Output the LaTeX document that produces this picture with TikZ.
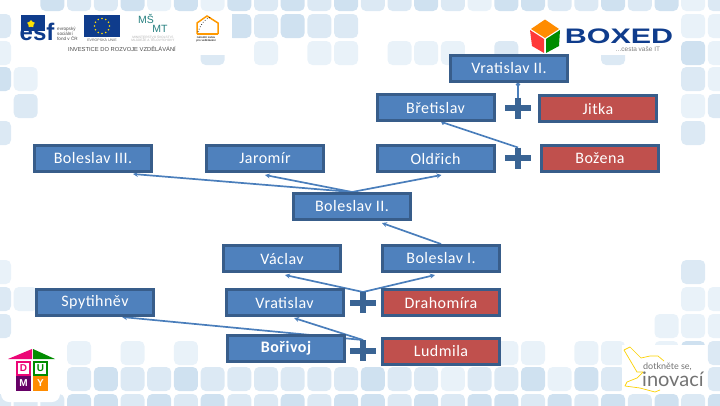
\documentclass[tikz,border=0pt]{standalone}
\usepackage{fontspec}
\setmainfont{Carlito}
\newfontfamily\personfont[LetterSpace=3]{Carlito}
\newfontfamily\logofont{Liberation Sans}
\newfontfamily\thinfont{Lato}
\usetikzlibrary{arrows.meta,backgrounds,shapes.geometric}
\definecolor{tileM}{HTML}{CFE1F0}
\definecolor{tileL}{HTML}{DCE9F4}
\definecolor{tileC}{HTML}{E9F2F9}
\definecolor{boxblue}{HTML}{4F81BD}
\definecolor{boxred}{HTML}{C0504D}
\definecolor{boxedge}{HTML}{385D8A}
\definecolor{linkblue}{HTML}{4A7EBB}
\definecolor{plusblue}{HTML}{3A6494}
\definecolor{navy}{HTML}{0F3C8C}
\tikzset{
  person/.style={draw=boxedge,line width=3pt,minimum width=117pt,minimum height=26pt,inner sep=0pt,text=white,font=\personfont\fontsize{16}{17}\selectfont},
  man/.style={person,fill=boxblue},
  woman/.style={person,fill=boxred},
  plusmark/.style={inner sep=0pt,outer sep=0pt,minimum width=26pt,minimum height=21pt},
  link/.style={draw=linkblue,line width=1.7pt},
  descent/.style={link,-{Stealth[length=5pt,width=5pt]}},
  tie/.style={link,{Circle[length=4pt,width=4pt]}-},
  tile/.style={rounded corners=5pt},
  tiny/.style={inner sep=0pt,text=gray!75!black,align=center,font=\logofont\fontsize{3.6}{4}\selectfont}
}
% one row of background tiles: top edge, list of column/shade
\newcommand{\tilerow}[2]{%
  \foreach \k/\c in {#2}{%
    \fill[tile,fill=tile\c] ({-13+26.7*\k},#1) rectangle ++(24,24);
  }%
}
\begin{document}
\begin{tikzpicture}[x=1pt,y=-1pt]
\useasboundingbox (0,0) rectangle (720,405);

% people
\node[man] (boleslavIII) at (93,158.5) {Boleslav III.};
\node[man] (jaromir) at (265,158.5) {Jaromír};
\node[man] (vratislavII) at (509,68) {Vratislav II.};
\node[man] (bretislav) at (435.5,107.5) {Břetislav};
\node[man] (oldrich) at (435.5,158.5) {Oldřich};
\node[woman] (jitka) at (598,108.5) {Jitka};
\node[woman] (bozena) at (600,158.5) {Božena};
\node[man] (boleslavII) at (352,206.5) {Boleslav II.};
\node[man] (vaclav) at (282,258.5) {Václav};
\node[man] (boleslavI) at (441,258.5) {Boleslav I.};
\node[man] (spytihnev) at (95,302.5) {Spytihněv};
\node[man] (vratislav) at (284.5,302.5) {Vratislav};
\node[woman] (drahomira) at (441,302.5) {Drahomíra};
\node[man,font=\personfont\fontsize{16}{17}\selectfont\bfseries] (borivoj) at (286,348.5) {Bořivoj};
\node[woman] (ludmila) at (441,351) {Ludmila};

% marriage marks
\node[plusmark] (p1) at (518,108) {};
\node[plusmark] (p2) at (518,158) {};
\node[plusmark] (p3) at (363,302.5) {};
\node[plusmark] (p4) at (363,350.5) {};
\foreach \p in {p1,p2,p3,p4}{
  \draw[plusblue,line width=6pt] (\p.west) -- (\p.east) (\p.north) -- (\p.south);
}

\begin{scope}[on background layer]
  % tiles, top group
  \tilerow{-13}{2/M,3/L,4/L,5/M,6/C,7/M,8/C,9/M,10/L,11/M,12/L,13/M,14/L,15/L,16/M,17/L,18/C,19/M,20/M,21/L,22/L,23/M,24/L,25/M,26/C,27/L}
  \tilerow{14}{0/L,9/M,10/L,11/M,12/L,13/L,26/C,27/C}
  \tilerow{41}{0/C,8/L,10/C,12/C,13/C,15/C,16/C,17/C,19/L,23/L,26/M,27/C}
  \tilerow{67}{0/M,1/C,26/L,27/C}
  \tilerow{94}{1/L,26/C,27/L}
  \tilerow{121}{0/L,26/L}
  % tiles, bottom group
  \tilerow{260}{0/C,26/L}
  \tilerow{287}{0/L,1/C,26/C,27/C}
  \tilerow{314}{0/L,25/C,26/C,27/C}
  \tilerow{341}{3/C,5/C,7/C,19/C,20/C,22/C,23/C,25/C,26/M,27/L}
  \tilerow{367}{3/L,4/M,5/L,6/L,7/M,8/L,9/L,10/L,11/L,12/L,13/L,14/M,15/L,16/L,17/C,18/L,19/L,20/M,21/C,22/M,23/L,24/L,25/L,26/L,27/L}
  \tilerow{394}{0/L,1/L,2/L,3/M,4/M,5/L,6/M,7/L,8/M,9/L,10/L,11/M,12/L,13/M,14/M,15/L,16/M,17/L,18/M,19/M,20/L,21/M,22/L,23/M,24/L,25/M,26/L,27/M}
  % white panels behind the logos
  \fill[white] (13,12) rectangle (232,55);
  \fill[white] (525,12) rectangle (680,55);
  \fill[white,rounded corners=8pt] (1,339) rectangle (60,402);
  \fill[white] (622,345) rectangle (707,394);

  % connectors
  \draw[tie] ([xshift=9pt]vratislavII.south) -- (p1.north);
  \draw[tie] ([xshift=6pt]bretislav.south) -- (p2.north);
  \draw[descent] (boleslavII.north) -- ([xshift=40pt,yshift=-1pt]boleslavIII.south);
  \draw[descent] (boleslavII.north) -- ([yshift=-2pt]jaromir.south);
  \draw[descent] (boleslavII.north) -- ([xshift=6pt,yshift=-2pt]oldrich.south);
  \draw[descent] (boleslavI.north) -- ([xshift=30pt,yshift=-2pt]boleslavII.south);
  \draw[descent] (p3.north) -- ([xshift=3pt,yshift=-2pt]vaclav.south);
  \draw[descent] (p3.north) -- ([xshift=-6pt,yshift=-2pt]boleslavI.south);
  \draw[descent] (p4.north) -- ([xshift=9.5pt,yshift=-1pt]vratislav.south);
  \draw[descent] (p4.north) -- ([xshift=27pt]spytihnev.south);
\end{scope}

% ESF logo
\fill[navy] (21,15) rectangle (45,31);
\node[star,star points=5,fill=yellow!85!orange,inner sep=0pt,minimum size=8pt] (esfstar) at (31,24) {};
\fill[white] (21,31) rectangle (53,42);
\node[inner sep=0pt,text=navy,font=\logofont\bfseries\fontsize{24}{24}\selectfont] (esf) at (37,32) {esf};
\node[tiny,text=black!70,font=\logofont\fontsize{4.6}{5}\selectfont,align=left,anchor=west] (esftxt) at (57,34) {evropský\\sociální\\fond v ČR};
% EU flag
\fill[navy] (84,15) rectangle (120,37);
\foreach \a in {0,30,...,330}{
  \fill[yellow!80!orange] ({102+7.5*cos(\a)},{26+7.5*sin(\a)}) circle (.8pt);
}
\node[tiny] (eutxt) at (102,40) {EVROPSKÁ UNIE};
% MSMT logo
\node[inner sep=0pt,text=teal!70!gray,font=\logofont\fontsize{10.5}{10.5}\selectfont] (ms) at (146,19) {MŠ};
\node[inner sep=0pt,text=teal!70!gray,font=\logofont\fontsize{10.5}{10.5}\selectfont] (mt) at (160,29) {MT};
\node[tiny,text=gray!60,font=\logofont\fontsize{3.2}{3.6}\selectfont] (mstxt) at (153,38.5) {MINISTERSTVO ŠKOLSTVÍ,\\MLÁDEŽE A TĚLOVÝCHOVY};
% house logo
\draw[orange!80!yellow,line width=1.5pt] (197,34) -- (197,23) -- (207,16) -- (218,23) -- (218,34);
\draw[orange!80!yellow,line width=1.5pt] (197,34) -- (218,34);
\draw[black,dotted,line width=.7pt] (198,32) .. controls (201,24) and (204,19) .. (211,17);
\node[tiny,text=black!80,font=\logofont\bfseries\fontsize{2.8}{3}\selectfont] (housetxt) at (206,39) {národní ústav\\pro vzdělávání};
\node[tiny,text=black!70,font=\logofont\fontsize{5.8}{6}\selectfont] (invest) at (122,49) {INVESTICE DO ROZVOJE VZDĚLÁVÁNÍ};

% BOXED logo
\fill[orange!90!yellow] (545,19.5) -- (559,29) -- (545,38) -- (531,29) -- cycle;
\fill[red!70!pink] (530,30) -- (544,39) -- (544,53) -- (532,46) -- cycle;
\fill[green!55!black] (560,30) -- (546,39) -- (546,53) -- (559,46) -- cycle;
\node[inner sep=0pt,text=navy,xscale=1.45,font=\logofont\bfseries\fontsize{21}{21}\selectfont] (boxed) at (619,36) {BOXED};
\node[tiny,text=gray,font=\logofont\fontsize{6.5}{6.5}\selectfont] (boxedtxt) at (638,49) {...cesta vaše IT};

% DUMY logo
\fill[magenta!80!red] (8,359) -- (32,349) -- (32,359) -- cycle;
\fill[green!55!black] (33,349) -- (55,359) -- (33,359) -- cycle;
\node[draw=magenta!80!red,line width=2pt,fill=white,minimum size=13pt,inner sep=0pt,text=magenta!80!red,font=\logofont\bfseries\fontsize{10}{10}\selectfont] (dumyD) at (23.5,368) {D};
\node[draw=green!55!black,line width=2pt,fill=white,minimum size=13pt,inner sep=0pt,text=green!55!black,font=\logofont\bfseries\fontsize{10}{10}\selectfont] (dumyU) at (40.5,368) {U};
\node[fill=violet!80!black,minimum size=15pt,inner sep=0pt,text=white,font=\logofont\bfseries\fontsize{10}{10}\selectfont] (dumyM) at (23.5,383) {M};
\node[fill=orange!90!yellow,minimum size=15pt,inner sep=0pt,text=white,font=\logofont\bfseries\fontsize{10}{10}\selectfont] (dumyY) at (40.5,383) {Y};

% dotkněte se, inovací logo
\draw[yellow!70!orange,line width=.7pt,line join=round] (624,350) -- (630,347) -- (641,358) -- (650,356) -- (658,356) -- (664,361)
  (643,372) -- (637,378) -- (627,382) -- (625,386) -- (640,388) -- (655,392) -- (660,390);
\draw[yellow!70!orange,line width=.7pt] (624,350) -- (637,372) -- (643,372);
\node[inner sep=0pt,text=black!55,font=\thinfont\fontsize{9}{9}\selectfont,anchor=west] (dotknete) at (643,367) {dotkněte se,};
\node[inner sep=0pt,text=black!55,font=\thinfont\fontsize{20}{20}\selectfont,anchor=west] (inovaci) at (642,379) {inovací};
\end{tikzpicture}
\end{document}
